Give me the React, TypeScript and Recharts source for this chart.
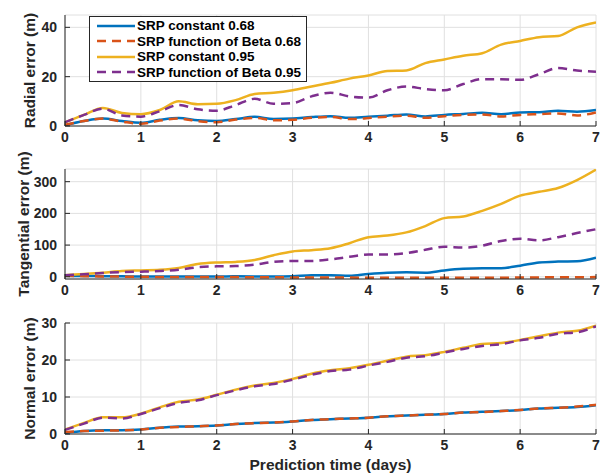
import { LineChart, Line, XAxis, YAxis, CartesianGrid, Legend } from 'recharts';

// prediction time (days)
const days = [0, 0.25, 0.5, 0.75, 1, 1.25, 1.5, 1.75, 2, 2.25, 2.5, 2.75, 3, 3.25, 3.5, 3.75, 4, 4.25, 4.5, 4.75, 5, 5.25, 5.5, 5.75, 6, 6.25, 6.5, 6.75, 7];

// radial error (m)
const radialConst68 = [0.3, 2, 3, 2, 1.3, 2.5, 3.2, 2.3, 2, 2.8, 3.7, 2.8, 3, 3.6, 4, 3.3, 3.8, 4.2, 4.7, 3.9, 4.5, 4.9, 5.4, 4.8, 5.5, 5.6, 6.2, 5.8, 6.5];
const radialBeta68 = [0.5, 2, 3, 1.8, 0.9, 2.2, 3, 2, 1.5, 2.6, 3.3, 2.3, 2.5, 3.3, 3.7, 2.8, 3.2, 3.8, 4.2, 3.3, 4, 4.5, 4.7, 3.9, 4.5, 4.8, 5.1, 4.3, 5.5];
const radialConst95 = [1.5, 4.5, 7.3, 5.3, 4.8, 6.5, 10, 8.8, 9, 10.5, 13, 13.5, 14.5, 16, 17.5, 19.2, 20.5, 22.3, 22.5, 25.5, 27, 28.5, 29.5, 33, 34.5, 36, 36.5, 40, 42];
const radialBeta95 = [1.5, 4.5, 7, 4.3, 3.8, 6, 8.5, 6.8, 6.2, 8.5, 11, 9, 9.3, 12, 13.5, 12, 11.5, 14.5, 16, 15, 14.5, 17, 19, 19, 18.7, 21, 23.5, 22.5, 22];

// tangential error (m)
const tangConst68 = [3, 2.5, 2, 1.5, 1, 0.5, 0.5, 1, 1, 1.5, 1, 1, 2, 5, 5, 3, 9, 13, 14, 13, 20, 25, 27, 27, 35, 45, 48, 49, 60];
const tangBeta68 = [3, 2, 1, 0.5, 0, -0.5, -1, -1, -1, -1, -1.5, -1.5, -2, -2, -2, -2.5, -3, -3, -3, -3, -3, -3, -3, -3, -2.5, -2, -1.5, -1.5, -1];
const tangConst95 = [5, 9, 13, 18, 20, 22, 28, 40, 45, 47, 53, 68, 80, 84, 90, 106, 125, 130, 140, 160, 185, 190, 208, 230, 256, 268, 280, 305, 338];
const tangBeta95 = [5, 8, 12, 15, 16, 18, 22, 30, 33, 34, 38, 47, 50, 50, 55, 63, 70, 70, 75, 85, 95, 92, 98, 113, 120, 115, 125, 138, 150];

// normal error (m)
const normConst68 = [0.3, 0.8, 1, 1, 1.2, 1.7, 2, 2.1, 2.3, 2.7, 3, 3.1, 3.4, 3.8, 4, 4.2, 4.4, 4.8, 5, 5.2, 5.4, 5.8, 6, 6.2, 6.5, 6.9, 7.1, 7.3, 7.8];
const normBeta68 = [0.5, 0.8, 0.9, 1, 1.2, 1.7, 1.9, 2.1, 2.3, 2.7, 2.9, 3.1, 3.4, 3.8, 4, 4.2, 4.4, 4.8, 5, 5.2, 5.4, 5.8, 5.9, 6.2, 6.5, 6.9, 7.1, 7.4, 7.9];
const normConst95 = [1.2, 3, 4.5, 4.5, 5.5, 7.2, 8.7, 9.3, 10.6, 12, 13.1, 13.8, 14.9, 16.3, 17.2, 17.8, 18.7, 19.8, 20.9, 21.3, 22.2, 23.3, 24.3, 24.6, 25.4, 26.4, 27.4, 27.9, 29.3];
const normBeta95 = [1.1, 2.8, 4.4, 4.2, 5.4, 7, 8.4, 9.1, 10.5, 11.8, 12.9, 13.5, 14.7, 16, 17, 17.4, 18.5, 19.5, 20.6, 21, 22, 23, 23.8, 24.3, 25.3, 26, 27.1, 27.5, 29.1];

const dayTicks = [0, 1, 2, 3, 4, 5, 6, 7];
const radialTicks = [0, 20, 40];
const tangTicks = [0, 100, 200, 300];
const normTicks = [0, 10, 20, 30];

const series = [
  { key: 'c68', name: 'SRP constant 0.68', color: '#0072BD', dash: undefined },
  { key: 'b68', name: 'SRP function of Beta 0.68', color: '#D95319', dash: '9 6' },
  { key: 'c95', name: 'SRP constant 0.95', color: '#EDB120', dash: undefined },
  { key: 'b95', name: 'SRP function of Beta 0.95', color: '#7E2F8E', dash: '9 6' },
];

const toRows = (c68: number[], b68: number[], c95: number[], b95: number[]) =>
  days.map((day, i) => ({ day, c68: c68[i], b68: b68[i], c95: c95[i], b95: b95[i] }));

const INK = '#262626';
const FONT = '"Liberation Sans", Arial, Helvetica, sans-serif';
const X_GAP = 6;
const Y_GAP = 8;
const AXIS_W = 65;

const XTick = (props: any) => {
  const { x, y, payload } = props;
  const axisY = y - X_GAP;
  return (
    <g>
      <line x1={x} x2={x} y1={axisY} y2={axisY - 5} stroke={INK} />
      <text x={x} y={y} dy="0.71em" textAnchor="middle" fill={INK} fontSize={14} fontWeight="bold" fontFamily={FONT}>
        {payload.value}
      </text>
    </g>
  );
};

const YTick = (props: any) => {
  const { x, y, payload } = props;
  const axisX = x + Y_GAP;
  return (
    <g>
      <line x1={axisX} x2={axisX + 5} y1={y} y2={y} stroke={INK} />
      <text x={x} y={y} dy="0.355em" textAnchor="end" fill={INK} fontSize={14} fontWeight="bold" fontFamily={FONT}>
        {payload.value}
      </text>
    </g>
  );
};

// keep the plotting order in the legend (Recharts sorts by name otherwise)
const LegendBox = (props: any) => {
  const order = series.map((s) => s.name);
  const items = [...(props.payload || [])].sort((a: any, b: any) => order.indexOf(a.value) - order.indexOf(b.value));
  return (
    <div style={{ border: `1px solid ${INK}`, background: '#fff', padding: '1px 5px 1px 7px', fontFamily: FONT }}>
      {items.map((entry: any) => (
        <div key={entry.value} style={{ display: 'flex', alignItems: 'center', height: 15.5 }}>
          <svg width={38} height={6}>
            <line x1={0} x2={38} y1={3} y2={3} stroke={entry.color} strokeWidth={2.5} strokeDasharray={entry.payload?.strokeDasharray} />
          </svg>
          <span style={{ marginLeft: 2, fontSize: 13.5, fontWeight: 'bold', color: '#000', whiteSpace: 'nowrap' }}>{entry.value}</span>
        </div>
      ))}
    </div>
  );
};

interface PanelProps {
  rows: any[];
  top: number;
  height: number;
  marginTop: number;
  yDomain: [number, number];
  yTicks: number[];
  yLabel: string;
  labelDx: number;
  legend?: boolean;
}

function Panel({ rows, top, height, marginTop, yDomain, yTicks, yLabel, labelDx, legend }: PanelProps) {
  return (
    <div style={{ position: 'absolute', left: 0, top }}>
      <LineChart width={605} height={height} data={rows} margin={{ top: marginTop, right: 9, left: 0, bottom: 0 }}>
        <CartesianGrid stroke="#e0e0e0" strokeWidth={1} />
        <XAxis
          dataKey="day"
          type="number"
          domain={[0, 7]}
          ticks={dayTicks}
          height={24}
          tickSize={0}
          tickMargin={X_GAP}
          tick={<XTick />}
          axisLine={{ stroke: INK }}
          allowDataOverflow
        />
        <YAxis
          type="number"
          domain={yDomain}
          ticks={yTicks}
          width={AXIS_W}
          tickSize={0}
          tickMargin={Y_GAP}
          tick={<YTick />}
          axisLine={{ stroke: INK }}
          allowDataOverflow
          label={{ value: yLabel, angle: -90, position: 'center', dx: labelDx, fill: INK, fontSize: 15.5, fontWeight: 'bold', fontFamily: FONT }}
        />
        {series.map((s) => (
          <Line
            key={s.key}
            dataKey={s.key}
            name={s.name}
            type="monotone"
            stroke={s.color}
            strokeWidth={2.5}
            strokeDasharray={s.dash}
            dot={false}
            activeDot={false}
            isAnimationActive={false}
          />
        ))}
        {legend && (
          <Legend
            layout="horizontal"
            verticalAlign="middle"
            align="center"
            content={<LegendBox />}
            wrapperStyle={{ top: 16, left: 89, width: 'auto', height: 'auto' }}
          />
        )}
      </LineChart>
    </div>
  );
}

export default function App() {
  return (
    <div style={{ position: 'absolute', left: 0, top: 0, width: 605, height: 476, background: '#fff', fontFamily: FONT }}>
      <Panel
        rows={toRows(radialConst68, radialBeta68, radialConst95, radialBeta95)}
        top={0}
        height={150}
        marginTop={15}
        yDomain={[0, 45]}
        yTicks={radialTicks}
        yLabel="Radial error (m)"
        labelDx={-3}
        legend
      />
      <Panel
        rows={toRows(tangConst68, tangBeta68, tangConst95, tangBeta95)}
        top={150}
        height={153}
        marginTop={19}
        yDomain={[-7, 340]}
        yTicks={tangTicks}
        yLabel="Tangential error (m)"
        labelDx={-9}
      />
      <Panel
        rows={toRows(normConst68, normBeta68, normConst95, normBeta95)}
        top={303}
        height={155}
        marginTop={20}
        yDomain={[0, 30]}
        yTicks={normTicks}
        yLabel="Normal error (m)"
        labelDx={-3}
      />
      <div
        style={{
          position: 'absolute',
          left: 65,
          width: 531,
          top: 455,
          textAlign: 'center',
          fontSize: 15.5,
          fontWeight: 'bold',
          color: INK,
          lineHeight: '20px',
        }}
      >
        Prediction time (days)
      </div>
    </div>
  );
}
